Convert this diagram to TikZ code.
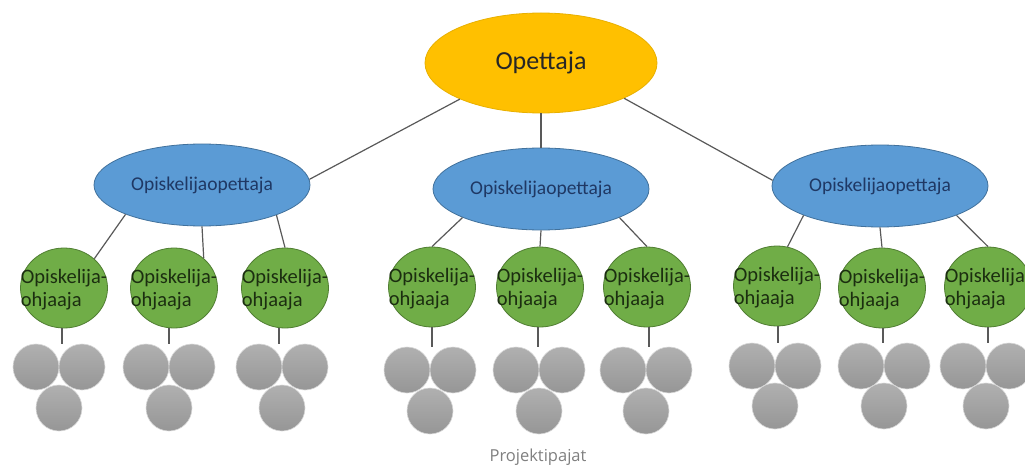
\documentclass[tikz,border=0pt]{standalone}
\usepackage{fontspec}
\setmainfont{Carlito}
\newfontfamily\capfont{Open Sans}
\usetikzlibrary{shapes.geometric}
\definecolor{gold}{HTML}{FFC000}
\definecolor{goldline}{HTML}{E8B000}
\definecolor{bluefill}{HTML}{5B9BD5}
\definecolor{blueline}{HTML}{41719C}
\definecolor{bluetext}{HTML}{1F3864}
\definecolor{greenfill}{HTML}{70AD47}
\definecolor{greenline}{HTML}{507E32}
\definecolor{greentext}{HTML}{1B2E10}
\definecolor{greytop}{HTML}{B0B0B0}
\definecolor{greybot}{HTML}{969696}
\definecolor{greyline}{HTML}{D8D8D8}
\definecolor{connline}{HTML}{595959}
\definecolor{captext}{HTML}{808080}
\begin{document}
\begin{tikzpicture}[x=1pt,y=-1pt,
  topnode/.style={ellipse,fill=gold,draw=goldline,line width=0.8pt,minimum width=232pt,minimum height=100pt,inner sep=0pt,text=black!85,font=\fontsize{26}{30}\selectfont},
  bluenode/.style={ellipse,fill=bluefill,draw=blueline,line width=0.8pt,minimum width=216pt,minimum height=82pt,inner sep=0pt,text=bluetext,font=\fontsize{19.5}{22}\selectfont},
  greennode/.style={ellipse,fill=greenfill,draw=greenline,line width=0.8pt,minimum width=87pt,minimum height=80pt,inner sep=0pt},
  greentxt/.style={align=left,inner sep=0pt,text=greentext,font=\fontsize{20.5}{23}\selectfont},
  greynode/.style={circle,top color=greytop,bottom color=greybot,draw=greyline,line width=0.6pt,minimum size=46pt,inner sep=0pt},
  conn/.style={draw=connline,line width=1.2pt},
  captxt/.style={text=captext,font=\capfont\fontsize{16.5}{19}\selectfont,inner sep=0pt}]
\useasboundingbox (0,0) rectangle (1025,468);
\fill[white] (0,0) rectangle (1025,468);

\node[topnode] (T) at (541,63) {Opettaja};
\node[bluenode] (B1) at (202,185) {Opiskelijaopettaja};
\node[bluenode] (B2) at (541,189) {Opiskelijaopettaja};
\node[bluenode] (B3) at (880,186) {Opiskelijaopettaja};

\foreach \n/\x/\y in {1/64/288,2/174/288,3/285/288,4/432/287,5/540/287,6/647/287,7/777/286,8/882/288,9/988/287}{
  \node[greennode] (G\n) at (\x,\y) {};
  \node[greentxt] (GT\n) at (\x,\y+2) {Opiskelija-\\ohjaaja};
}

\draw[conn] (T.204) -- (B1.3);
\draw[conn] (T.south) -- (B2.north);
\draw[conn] (T.337) -- (B3.177);
\draw[conn] (B1.201) -- (G1.44);
\draw[conn] (B1.south) -- (G2.45);
\draw[conn] (B1.338) -- (G3.north);
\draw[conn] (B2.200) -- (G4.north);
\draw[conn] (B2.south) -- (G5.north);
\draw[conn] (B2.340) -- (G6.north);
\draw[conn] (B3.201) -- (G7.75);
\draw[conn] (B3.south) -- (G8.north);
\draw[conn] (B3.339) -- (G9.north);

\foreach \n/\x/\s/\ya/\yc in {1/59/62/367/408,2/169/169/367/408,3/282/279/367/408,4/430/432/370/411,5/539/538/370/411,6/646/649/370/411,7/775/778/366/406,8/884/883/366/406,9/986/988/366/406}{
  \coordinate (S\n) at (\s,\ya-23);
  \draw[conn] (S\n |- G\n.south) -- (S\n);
  \node[greynode] (P\n a) at (\x-23,\ya) {};
  \node[greynode] (P\n b) at (\x+23,\ya) {};
  \node[greynode] (P\n c) at (\x,\yc) {};
}

\node[captxt] (cap) at (538,457) {Projektipajat};
\end{tikzpicture}
\end{document}
